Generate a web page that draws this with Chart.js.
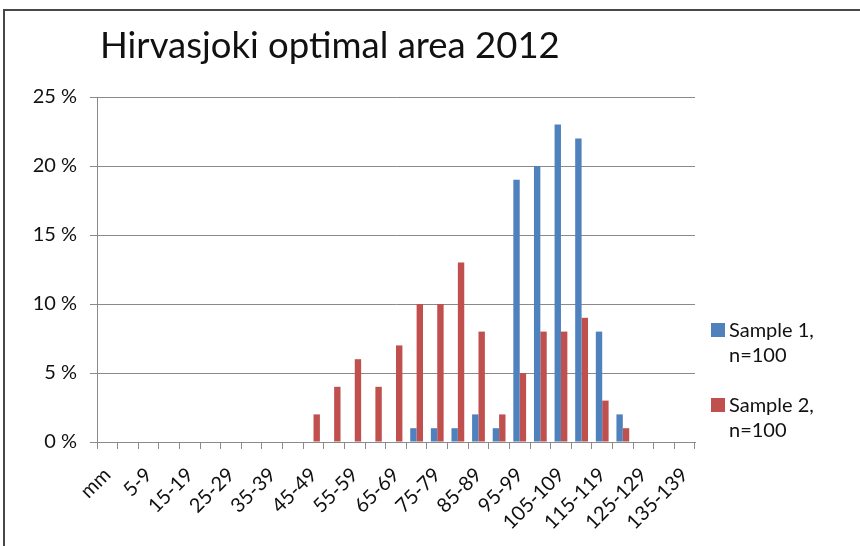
<!DOCTYPE html>
<html>
<head>
<meta charset="utf-8">
<script src="https://cdn.jsdelivr.net/npm/chart.js@4"></script>
<style>
  html, body { margin: 0; padding: 0; background: #fff; }
  canvas { display: block; }
</style>
</head>
<body>
<canvas id="chart" width="860" height="546"></canvas>
<script>
// Length distribution, share of fish per 5 mm class
const chartTitle = 'Hirvasjoki optimal area 2012';

const categories = [
  'mm', '0-4', '5-9', '10-14', '15-19', '20-24', '25-29', '30-34', '35-39',
  '40-44', '45-49', '50-54', '55-59', '60-64', '65-69', '70-74', '75-79',
  '80-84', '85-89', '90-94', '95-99', '100-104', '105-109', '110-114',
  '115-119', '120-124', '125-129', '130-134', '135-139'
];

const sample1 = [
  0, 0, 0, 0, 0, 0, 0, 0, 0, 0, 0, 0, 0, 0, 0,
  1, 1, 1, 2, 1, 19, 20, 23, 22, 8, 2, 0, 0, 0
];

const sample2 = [
  0, 0, 0, 0, 0, 0, 0, 0, 0, 0,
  2, 4, 6, 4, 7, 10, 10, 13, 8, 2, 5, 8, 8, 9, 3, 1, 0, 0, 0
];

const seriesNames = [['Sample 1,', 'n=100'], ['Sample 2,', 'n=100']];
const seriesColors = ['#4F81BD', '#C0504D'];
const yTickLabels = ['0 %', '5 %', '10 %', '15 %', '20 %', '25 %'];

const FONT = 'Lato, "Open Sans", "DejaVu Sans", sans-serif';
const TEXT = '#111';
const AXIS = '#8a8a8a';

// Frame, title and the two-line legend
const decor = {
  id: 'decor',
  beforeDraw(chart) {
    const ctx = chart.ctx;
    ctx.save();
    ctx.fillStyle = '#fff';
    ctx.fillRect(0, 0, chart.width, chart.height);
    ctx.strokeStyle = '#474747';
    ctx.lineWidth = 2;
    ctx.strokeRect(4, 10, chart.width + 20, chart.height + 20);
    ctx.restore();
  },
  afterDraw(chart) {
    const ctx = chart.ctx;
    const area = chart.chartArea;
    ctx.save();
    ctx.fillStyle = TEXT;
    ctx.font = '36.5px ' + FONT;
    ctx.textAlign = 'left';
    ctx.textBaseline = 'alphabetic';
    ctx.fillText(chartTitle, 100, 58);

    ctx.font = '20px ' + FONT;
    chart.data.datasets.forEach((ds, i) => {
      const top = 323 + i * 75;
      const x = area.right + 16;
      ctx.fillStyle = ds.backgroundColor;
      ctx.fillRect(x, top, 14, 14);
      ctx.fillStyle = TEXT;
      seriesNames[i].forEach((line, j) => {
        ctx.fillText(line, x + 18, top + 14 + j * 25);
      });
    });
    ctx.restore();
  }
};

new Chart(document.getElementById('chart'), {
  type: 'bar',
  data: {
    labels: categories,
    datasets: [
      { label: seriesNames[0].join(' '), data: sample1, backgroundColor: seriesColors[0] },
      { label: seriesNames[1].join(' '), data: sample2, backgroundColor: seriesColors[1] }
    ]
  },
  options: {
    responsive: false,
    animation: false,
    devicePixelRatio: 1,
    layout: { padding: { top: 97, right: 165, left: 0, bottom: 0 } },
    datasets: {
      bar: { categoryPercentage: 0.62, barPercentage: 1.0, borderWidth: 0 }
    },
    plugins: {
      legend: { display: false },
      title: { display: false },
      tooltip: { enabled: false }
    },
    scales: {
      x: {
        offset: true,
        grid: {
          offset: true,
          drawOnChartArea: false,
          drawTicks: true,
          tickLength: 7,
          color: AXIS
        },
        border: { color: AXIS, width: 1 },
        ticks: {
          autoSkip: false,
          minRotation: 45,
          maxRotation: 45,
          padding: 14,
          color: TEXT,
          font: { family: FONT, size: 20 },
          callback: (v, i) => (i % 2 === 0 ? categories[i] : '')
        },
        afterFit(scale) { scale.height = 104; }
      },
      y: {
        min: 0,
        max: 25,
        grid: { color: AXIS, tickLength: 7, lineWidth: 1 },
        border: { color: AXIS, width: 1 },
        ticks: {
          stepSize: 5,
          padding: 13,
          color: TEXT,
          font: { family: FONT, size: 20 },
          callback: (v) => yTickLabels[Math.round(v / 5)]
        },
        afterFit(scale) { scale.width = 97; }
      }
    }
  },
  plugins: [decor]
});
</script>
</body>
</html>
